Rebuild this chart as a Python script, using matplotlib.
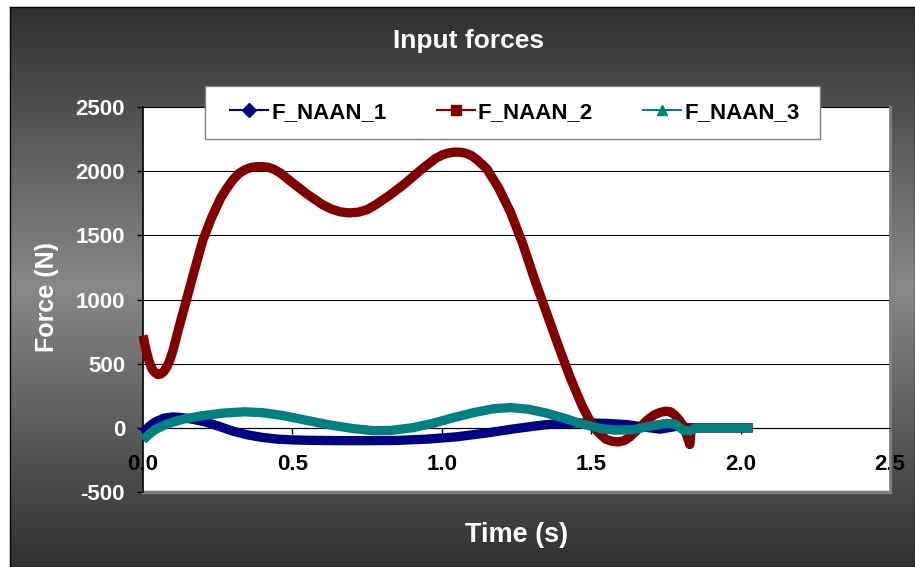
import numpy as np
import matplotlib
matplotlib.use("Agg")
import matplotlib.pyplot as plt
from matplotlib.lines import Line2D
from matplotlib.patches import Rectangle
from matplotlib.colors import LinearSegmentedColormap

plt.rcParams["font.family"] = ["Liberation Sans", "DejaVu Sans"]
plt.rcParams["font.weight"] = "bold"
plt.rcParams["axes.unicode_minus"] = False

# ====== DATA ======
T_NAAN_1 = [0.00, 0.02, 0.04, 0.07, 0.10, 0.13, 0.17, 0.21, 0.25, 0.30, 0.35,
            0.40, 0.45, 0.50, 0.55, 0.65, 0.75, 0.85, 0.95, 1.05, 1.15, 1.25,
            1.35, 1.45, 1.55, 1.62, 1.68, 1.73, 1.77, 1.80, 1.82, 2.04]
F_NAAN_1 = [-40, 10, 45, 75, 85, 80, 65, 45, 15, -25, -55,
            -75, -88, -94, -97, -100, -100, -98, -88, -70, -40, -5,
            25, 38, 35, 25, 5, -10, 5, 20, 0, 0]

T_NAAN_2 = [0.00, 0.01, 0.02, 0.03, 0.04, 0.05, 0.06, 0.07, 0.08, 0.09, 0.10,
            0.12, 0.14, 0.17, 0.20, 0.23, 0.26, 0.28, 0.30, 0.32, 0.34, 0.36,
            0.38, 0.40, 0.42, 0.44, 0.46, 0.50, 0.55, 0.60, 0.63, 0.66, 0.69,
            0.72, 0.75, 0.78, 0.83, 0.88, 0.93, 0.96, 0.98, 1.00, 1.02, 1.04,
            1.06, 1.08, 1.10, 1.12, 1.15, 1.19, 1.23, 1.27, 1.31, 1.35, 1.39,
            1.43, 1.47, 1.49, 1.51, 1.53, 1.55, 1.57, 1.59, 1.61, 1.63, 1.65,
            1.67, 1.69, 1.71, 1.73, 1.75, 1.765, 1.78, 1.795, 1.81, 1.82, 1.83,
            1.835, 2.04]
F_NAAN_2 = [720, 610, 520, 460, 430, 415, 420, 440, 475, 530, 600,
            780, 950, 1210, 1460, 1640, 1790, 1865, 1930, 1980, 2010, 2028,
            2035, 2035, 2030, 2012, 1985, 1910, 1820, 1740, 1705, 1683, 1675,
            1680, 1700, 1740, 1820, 1910, 2010, 2065, 2100, 2125, 2140, 2148,
            2148, 2140, 2120, 2085, 2020, 1870, 1680, 1440, 1160, 900, 640,
            390, 170, 80, 0, -50, -90, -105, -110, -100, -70, -25,
            20, 65, 100, 120, 130, 125, 100, 60, 10, -60, -130,
            0, 0]

T_NAAN_3 = [0.00, 0.02, 0.04, 0.07, 0.10, 0.14, 0.20, 0.27, 0.34, 0.40, 0.47,
            0.54, 0.62, 0.70, 0.77, 0.83, 0.90, 0.97, 1.04, 1.11, 1.17, 1.23,
            1.29, 1.35, 1.41, 1.47, 1.53, 1.58, 1.64, 1.70, 1.75, 1.78, 1.81,
            1.83, 1.85, 2.04]
F_NAAN_3 = [-95, -50, -15, 20, 45, 70, 95, 115, 125, 118, 95,
            62, 25, -5, -22, -20, 0, 35, 80, 120, 148, 158,
            145, 115, 75, 30, -5, -18, -15, 15, 35, 30, -20,
            -25, 0, 0]

SERIES_NAMES = ["F_NAAN_1", "F_NAAN_2", "F_NAAN_3"]
SERIES_COLORS = ["#000080", "#800000", "#008080"]
SERIES_MARKERS = ["D", "s", "^"]

X_TICKS = [0.0, 0.5, 1.0, 1.5, 2.0, 2.5]
X_LABELS = ["0.0", "0.5", "1.0", "1.5", "2.0", "2.5"]
Y_TICKS = [-500, 0, 500, 1000, 1500, 2000, 2500]

W, H = 915, 567

fig = plt.figure(figsize=(W / 100, H / 100), dpi=100, facecolor="white")

# gradient chart background
bg = fig.add_axes([10 / W, 0, 1 - 10 / W, 1 - 7 / H], zorder=-10)
grad = np.concatenate([np.linspace(0, 1, 200), np.linspace(1, 0, 200)]).reshape(-1, 1)
cmap = LinearSegmentedColormap.from_list("bg", ["#303030", "#888888"])
bg.imshow(grad, aspect="auto", cmap=cmap, extent=[0, 1, 0, 1])
bg.set_xticks([])
bg.set_yticks([])
for s in bg.spines.values():
    s.set_color("black")
    s.set_linewidth(1)

ax = fig.add_axes([143 / W, 1 - 492 / H, 747 / W, 385 / H], facecolor="white")
ax.set_xlim(0, 2.5)
ax.set_ylim(-500, 2500)

for t, f, c in zip([T_NAAN_1, T_NAAN_2, T_NAAN_3],
                   [F_NAAN_1, F_NAAN_2, F_NAAN_3], SERIES_COLORS):
    ax.plot(t, f, color=c, lw=6.7, solid_capstyle="butt",
            solid_joinstyle="round", clip_on=False, zorder=3)

ax.set_yticks(Y_TICKS)
ax.set_xticks(X_TICKS)
ax.set_xticklabels(X_LABELS)
ax.yaxis.grid(True, color="black", lw=0.8)
ax.set_axisbelow(True)

ax.spines["bottom"].set_position(("data", 0))
ax.spines["bottom"].set_color("black")
ax.spines["bottom"].set_linewidth(0.8)
ax.spines["left"].set_color("black")
ax.spines["left"].set_linewidth(1.2)
ax.spines["top"].set_visible(False)
ax.spines["right"].set_color("#808080")
ax.spines["right"].set_linewidth(2)
ax.axhline(-500, color="#808080", lw=2.5, clip_on=False)

ax.tick_params(axis="y", direction="out", length=4.3, width=1, pad=8.6,
               labelsize=16, labelcolor="white")
ax.tick_params(axis="x", direction="out", length=4.5, width=1, pad=14,
               labelsize=16, labelcolor="black")

fig.text(469 / W, 1 - 41 / H, "Input forces", color="white", fontsize=19,
         fontweight="bold", ha="center", va="center")
fig.text(47 / W, 1 - 297 / H, "Force (N)", color="white", fontsize=18,
         fontweight="bold", ha="center", va="center", rotation=90)
fig.text(517 / W, 1 - 535 / H, "Time (s)", color="white", fontsize=19.5,
         fontweight="bold", ha="center", va="center")

# legend box drawn separately so its padding can match the reference
fig.patches.append(Rectangle((205 / W, 1 - 139 / H), 615 / W, 53 / H,
                             transform=fig.transFigure, facecolor="white",
                             edgecolor="#808080", lw=1, zorder=4))
handles = [Line2D([], [], color=c, lw=1.5, marker=m, markersize=7)
           for c, m in zip(SERIES_COLORS, SERIES_MARKERS)]
leg = fig.legend(handles, SERIES_NAMES, loc="center",
                 bbox_to_anchor=(515 / W, 1 - 112.5 / H), ncol=3,
                 fontsize=16, handlelength=1.7, handletextpad=0.15,
                 columnspacing=2.25, borderpad=0.6, frameon=False)
leg.set_zorder(5)

fig.savefig("out.png", dpi=100, facecolor="white")
